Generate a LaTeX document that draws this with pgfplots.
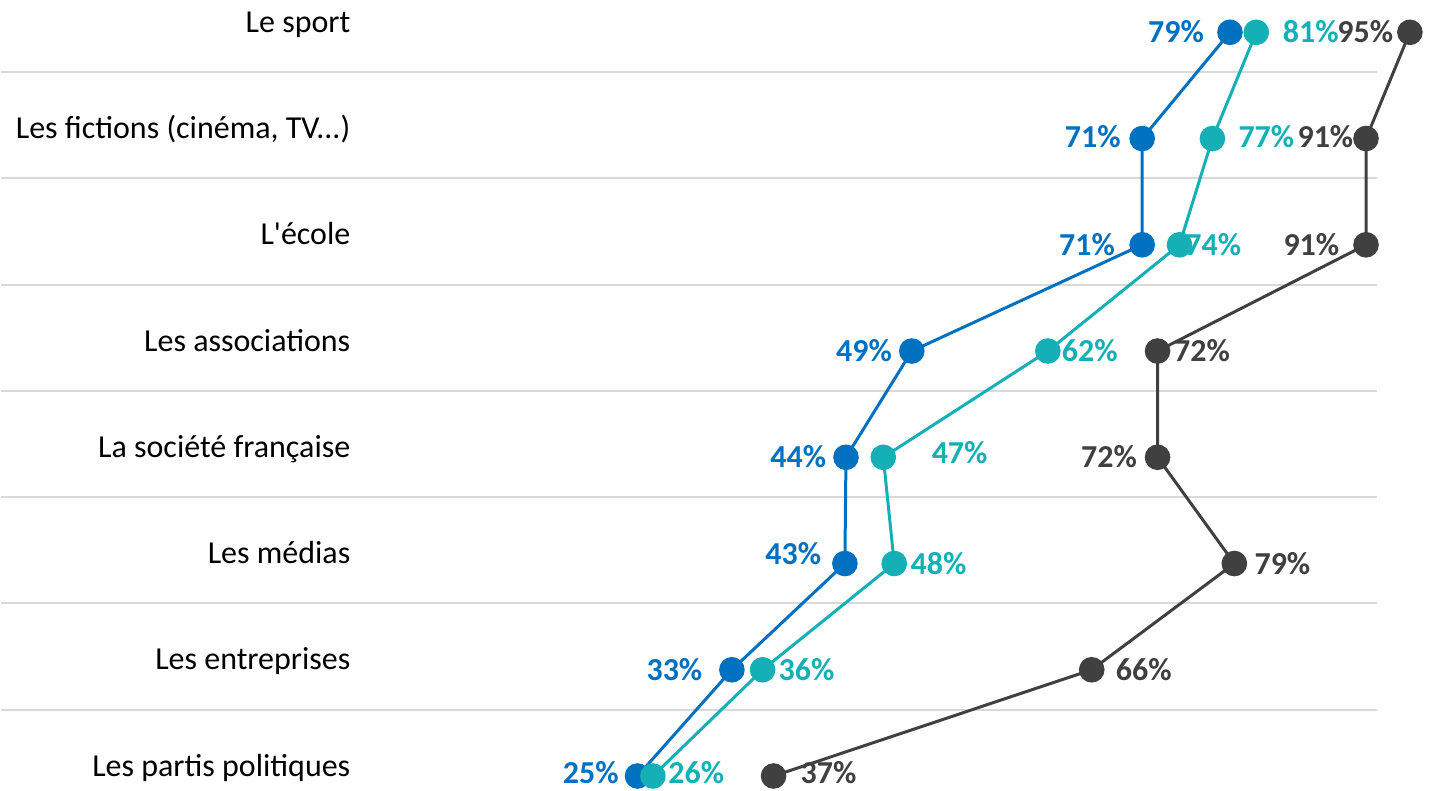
\documentclass[border=0pt]{standalone}
\usepackage{fontspec}
\setmainfont{Carlito}[Ligatures=TeXOff]
\usepackage{pgfplots}
\pgfplotsset{compat=1.18}
\usepackage{pgfplotstable}
\definecolor{cblue}{HTML}{0070C0}
\definecolor{cteal}{HTML}{14B0B5}
\definecolor{cgray}{HTML}{404040}
\definecolor{cgrid}{HTML}{D9D9D9}
\newcommand{\fs}{\fontsize{16pt}{19pt}\selectfont}
\newcommand{\fictions}{Les fictions (cinéma, TV.{}.{}.)}

% row val lx ly lbl
\pgfplotstableread{
row val  lx    ly   lbl
0   78.6 73.68 0.10 79
1   70.6 66.09 1.08 71
2   70.6 65.57 2.10 71
3   49.6 45.24 3.10 49
4   43.6 39.25 4.10 44
5   43.5 38.80 5.01 43
6   33.2 27.96 6.10 33
7   24.6 20.34 7.07 25
}\blueT
\pgfplotstableread{
row val lx    ly   lbl
0   81  85.97 0.10 81
1   77  81.92 1.08 77
2   74  77.08 2.10 74
3   62  65.82 3.10 62
4   47  53.96 4.06 47
5   48  52.03 5.10 48
6   36  40.01 6.10 36
7   26  29.96 7.07 26
}\tealT
\pgfplotstableread{
row val lx    ly   lbl
0   95  90.93 0.10 95
1   91  87.30 1.08 91
2   91  86.02 2.10 91
3   72  76.05 3.10 72
4   72  67.58 4.10 72
5   79  83.38 5.10 79
6   66  70.74 6.10 66
7   37  42.01 7.07 37
}\grayT

\begin{document}
\begin{tikzpicture}[font=\fs]
\begin{axis}[
  scale only axis, width=717pt, height=395.5pt,
  xmin=-33.42, xmax=97.18, ymin=-0.304, ymax=7.135,
  y dir=reverse, clip=false,
  axis line style={draw=none}, major tick length=0pt,
  xtick=\empty,
  ytick={0,1,2,3,4,5,6,7},
  yticklabels={Le sport, \fictions, L'école, Les associations, La société française, Les médias, Les entreprises, Les partis politiques},
  yticklabel style={anchor=base east, xshift=175pt, inner sep=0pt, font=\fs, text=black},
]
\pgfplotsinvokeforeach{0,1,2,3,4,5,6}{
  \draw[cgrid, line width=1pt] (axis cs:-33.42,#1.376) -- (axis cs:91.96,#1.376);
}
\addplot[cblue, line width=1.5pt, mark=*, mark size=5.65pt, mark options={solid, fill=cblue, draw=none}] table[x=val, y=row]{\blueT};
\addplot[cteal, line width=1.5pt, mark=*, mark size=5.65pt, mark options={solid, fill=cteal, draw=none}] table[x=val, y=row]{\tealT};
\addplot[cgray, line width=1.5pt, mark=*, mark size=5.65pt, mark options={solid, fill=cgray, draw=none}] table[x=val, y=row]{\grayT};
\addplot[draw=none, mark=none, point meta=explicit symbolic, nodes near coords={\pgfplotspointmeta\%}, nodes near coords style={anchor=base, inner sep=0pt, font=\fs\bfseries, text=cblue}] table[x=lx, y=ly, meta=lbl]{\blueT};
\addplot[draw=none, mark=none, point meta=explicit symbolic, nodes near coords={\pgfplotspointmeta\%}, nodes near coords style={anchor=base, inner sep=0pt, font=\fs\bfseries, text=cteal}] table[x=lx, y=ly, meta=lbl]{\tealT};
\addplot[draw=none, mark=none, point meta=explicit symbolic, nodes near coords={\pgfplotspointmeta\%}, nodes near coords style={anchor=base, inner sep=0pt, font=\fs\bfseries, text=cgray}] table[x=lx, y=ly, meta=lbl]{\grayT};
\end{axis}
\end{tikzpicture}
\end{document}
